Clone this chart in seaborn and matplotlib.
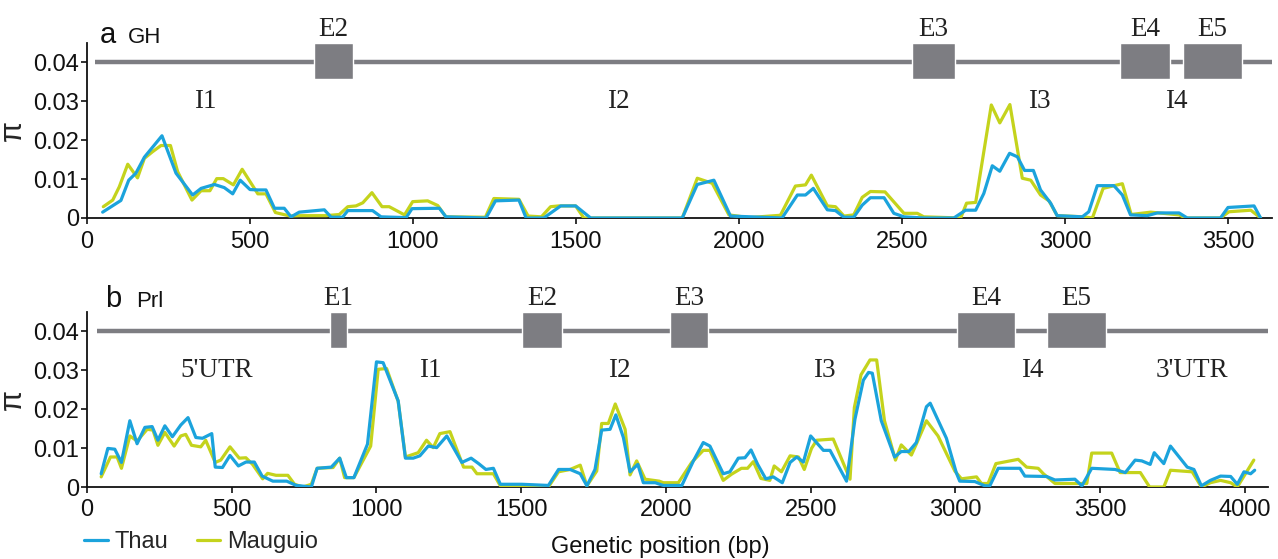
import numpy as np
import pandas as pd
import matplotlib
matplotlib.use("Agg")
import matplotlib.pyplot as plt
import seaborn as sns

# ---------------- data ----------------
series_names = ["Thau", "Mauguio"]
series_colors = ["#1BA3DC", "#C4D31C"]

# GH panel
gh_thau_x = [48, 104, 128, 150, 176, 230, 273, 324, 350, 391, 421, 447, 470, 500, 524, 549, 575, 605,
             626, 651, 728, 749, 784, 800, 876, 902, 979, 997, 1081, 1101, 1224, 1253, 1325, 1347,
             1401, 1453, 1499, 1545, 1826, 1872, 1923, 1974, 2132, 2179, 2204, 2228, 2271, 2296,
             2322, 2352, 2378, 2403, 2445, 2475, 2506, 2567, 2659, 2695, 2726, 2751, 2777, 2800,
             2830, 2854, 2876, 2903, 2925, 2956, 2976, 3053, 3073, 3099, 3150, 3176, 3201, 3252,
             3283, 3350, 3375, 3477, 3500, 3580, 3600]
gh_thau_y = [0.0015, 0.0045, 0.0097, 0.0115, 0.0156, 0.0211, 0.0115, 0.0059, 0.0076, 0.0086, 0.0078,
             0.0062, 0.0097, 0.0073, 0.0072, 0.0072, 0.0025, 0.0025, 0.0003, 0.0015, 0.0021, 0.0002,
             0.0002, 0.0019, 0.0019, 0.0003, 0.0001, 0.0024, 0.0025, 0.0003, 0.0, 0.0044, 0.0046,
             0.0, 0.0, 0.0031, 0.0031, 0.0, 0.0, 0.0086, 0.0097, 0.0005, 0.0, 0.0059, 0.0059, 0.0076,
             0.0021, 0.0019, 0.0002, 0.0002, 0.0033, 0.0052, 0.0052, 0.0012, 0.0003, 0.0, 0.0, 0.002,
             0.002, 0.0063, 0.0134, 0.012, 0.0166, 0.0157, 0.0122, 0.0122, 0.0072, 0.0038, 0.0006,
             0.0003, 0.0016, 0.0083, 0.0083, 0.0059, 0.0008, 0.0006, 0.0013, 0.0013, 0.0, 0.0,
             0.0027, 0.0031, 0.0]

gh_maug_x = [50, 79, 99, 125, 155, 176, 201, 227, 256, 278, 322, 350, 377, 398, 418, 449, 476, 524,
             549, 578, 623, 651, 733, 774, 800, 825, 846, 874, 905, 927, 974, 999, 1045, 1076, 1101,
             1222, 1248, 1325, 1353, 1394, 1422, 1447, 1499, 1524, 1826, 1872, 1918, 1969, 2030,
             2127, 2173, 2204, 2222, 2271, 2296, 2322, 2352, 2378, 2403, 2448, 2506, 2547, 2567,
             2680, 2698, 2726, 2774, 2800, 2831, 2869, 2895, 2925, 2951, 2976, 3058, 3084, 3117,
             3176, 3203, 3263, 3350, 3370, 3477, 3503, 3570, 3600]
gh_maug_y = [0.0029, 0.0046, 0.008, 0.0138, 0.0103, 0.0153, 0.017, 0.0186, 0.0186, 0.0119, 0.0046,
             0.007, 0.007, 0.0101, 0.0101, 0.0085, 0.0125, 0.0062, 0.0062, 0.0014, 0.0005, 0.0006,
             0.0006, 0.0009, 0.0029, 0.0031, 0.0039, 0.0065, 0.0029, 0.0029, 0.0008, 0.0042, 0.0044,
             0.0032, 0.0003, 0.0002, 0.005, 0.0048, 0.0005, 0.0003, 0.0029, 0.0031, 0.0031, 0.0,
             0.0, 0.0102, 0.0089, 0.0008, 0.0001, 0.0007, 0.0082, 0.0085, 0.011, 0.0031, 0.0029,
             0.0005, 0.0008, 0.0053, 0.0068, 0.0067, 0.0012, 0.0012, 0.0003, 0.0, 0.0038, 0.004,
             0.029, 0.0244, 0.0291, 0.0102, 0.0097, 0.0059, 0.0044, 0.0006, 0.0003, 0.0, 0.0076,
             0.0088, 0.0009, 0.0015, 0.0008, 0.0, 0.0, 0.0016, 0.002, 0.0]

# Prl panel
prl_thau_x = [49, 72, 96, 119, 148, 173, 200, 225, 245, 269, 295, 324, 349, 376, 399, 431, 443, 468,
              494, 523, 549, 578, 605, 642, 690, 723, 775, 795, 844, 873, 896, 922, 969, 1000, 1023,
              1075, 1100, 1127, 1150, 1179, 1208, 1243, 1295, 1327, 1353, 1378, 1404, 1428, 1502,
              1594, 1629, 1669, 1704, 1727, 1755, 1778, 1807, 1827, 1853, 1876, 1903, 1922, 1963,
              1991, 2055, 2095, 2129, 2152, 2198, 2221, 2250, 2273, 2294, 2317, 2345, 2371, 2402,
              2429, 2452, 2475, 2500, 2544, 2567, 2624, 2653, 2682, 2700, 2713, 2744, 2790, 2813,
              2839, 2865, 2900, 2913, 2969, 3003, 3015, 3067, 3102, 3119, 3148, 3223, 3240, 3315,
              3344, 3413, 3437, 3471, 3552, 3587, 3621, 3644, 3673, 3687, 3720, 3743, 3801, 3824,
              3850, 3881, 3916, 3951, 3974, 3997, 4020, 4034]
prl_thau_y = [0.0034, 0.0099, 0.0097, 0.0063, 0.017, 0.0111, 0.0153, 0.0155, 0.012, 0.0157, 0.0129,
              0.0159, 0.0178, 0.0127, 0.0125, 0.0137, 0.0051, 0.005, 0.0081, 0.0054, 0.0064, 0.0064,
              0.0028, 0.0015, 0.0015, 0.0004, 0.0, 0.0048, 0.0051, 0.0074, 0.0024, 0.0024, 0.011,
              0.0321, 0.0319, 0.0221, 0.0074, 0.0074, 0.008, 0.0105, 0.0101, 0.0131, 0.0063, 0.0074,
              0.006, 0.0045, 0.0048, 0.0007, 0.0007, 0.0004, 0.0045, 0.0045, 0.0034, 0.0003, 0.0045,
              0.0146, 0.0148, 0.0185, 0.0127, 0.0039, 0.0058, 0.0011, 0.0011, 0.0004, 0.0004, 0.0067,
              0.0114, 0.0105, 0.0034, 0.0039, 0.0074, 0.0075, 0.0095, 0.0058, 0.0021, 0.0026, 0.0011,
              0.0063, 0.0077, 0.0064, 0.0131, 0.0094, 0.0094, 0.0015, 0.0174, 0.0274, 0.0294, 0.0292,
              0.017, 0.0077, 0.0091, 0.0091, 0.0114, 0.0206, 0.0215, 0.0125, 0.0037, 0.0015, 0.0014,
              0.0003, 0.0003, 0.0048, 0.0048, 0.0028, 0.0027, 0.0018, 0.002, 0.0003, 0.0048, 0.0045,
              0.0037, 0.0069, 0.0067, 0.0058, 0.0088, 0.006, 0.0105, 0.0051, 0.0045, 0.0003, 0.0017,
              0.0028, 0.0027, 0.0007, 0.0039, 0.0034, 0.0043]

prl_maug_x = [49, 81, 104, 119, 148, 173, 208, 228, 245, 269, 301, 324, 341, 361, 393, 410, 443, 462,
              494, 526, 549, 572, 607, 624, 653, 694, 717, 746, 775, 795, 850, 873, 890, 922, 980,
              1006, 1035, 1075, 1100, 1144, 1173, 1196, 1219, 1254, 1301, 1330, 1347, 1404, 1428,
              1502, 1594, 1629, 1669, 1704, 1727, 1761, 1778, 1801, 1825, 1859, 1876, 1899, 1928,
              1977, 1991, 2043, 2089, 2129, 2152, 2198, 2227, 2261, 2282, 2302, 2328, 2359, 2374,
              2399, 2429, 2458, 2478, 2503, 2521, 2578, 2636, 2651, 2674, 2705, 2728, 2755, 2793,
              2813, 2848, 2865, 2900, 2940, 2998, 3021, 3073, 3090, 3113, 3140, 3217, 3246, 3286,
              3304, 3344, 3454, 3471, 3540, 3569, 3639, 3671, 3720, 3743, 3818, 3850, 3881, 3916,
              3951, 3974, 4031]
prl_maug_y = [0.0026, 0.0077, 0.0077, 0.0048, 0.0131, 0.0118, 0.0148, 0.0146, 0.0107, 0.014, 0.0105,
              0.0131, 0.0135, 0.0107, 0.0103, 0.012, 0.0063, 0.0069, 0.0103, 0.0074, 0.0075, 0.0058,
              0.0021, 0.0035, 0.003, 0.003, 0.0007, 0.0, 0.0007, 0.0048, 0.005, 0.0074, 0.0024,
              0.0024, 0.0105, 0.0302, 0.0304, 0.022, 0.0077, 0.0088, 0.012, 0.0101, 0.0137, 0.0142,
              0.0051, 0.0051, 0.0034, 0.0034, 0.0003, 0.0003, 0.0, 0.0039, 0.0045, 0.0056, 0.0003,
              0.0041, 0.0163, 0.0163, 0.0213, 0.0148, 0.0031, 0.0067, 0.002, 0.0015, 0.0011, 0.0011,
              0.0063, 0.0094, 0.0094, 0.0017, 0.0033, 0.0048, 0.0048, 0.0065, 0.0022, 0.0017, 0.0054,
              0.0039, 0.008, 0.0077, 0.0045, 0.0099, 0.012, 0.0123, 0.002, 0.0204, 0.0288, 0.0326,
              0.0326, 0.017, 0.0069, 0.0108, 0.0082, 0.011, 0.017, 0.0131, 0.0041, 0.0021, 0.0026,
              0.0009, 0.0009, 0.006, 0.0071, 0.0051, 0.0048, 0.0034, 0.0009, 0.0009, 0.0087, 0.0087,
              0.0037, 0.0037, 0.0, 0.0, 0.0043, 0.0039, 0.0, 0.0011, 0.0017, 0.0011, 0.0, 0.0069]

# gene structures
gh_exon_names = ["E2", "E3", "E4", "E5"]
gh_exon_start = [696, 2531, 3169, 3362]
gh_exon_end = [816, 2663, 3322, 3543]
gh_region_names = ["I1", "I2", "I3", "I4"]
gh_region_pos = [362, 1629, 2920, 3340]
gh_gene_span = [25, 3640]

prl_exon_names = ["E1", "E2", "E3", "E4", "E5"]
prl_exon_start = [839, 1503, 2014, 3005, 3316]
prl_exon_end = [898, 1641, 2145, 3206, 3520]
prl_region_names = ["5'UTR", "I1", "I2", "I3", "I4", "3'UTR"]
prl_region_pos = [449, 1185, 1838, 2546, 3264, 3817]
prl_gene_span = [34, 4090]

y_ticks = [0, 0.01, 0.02, 0.03, 0.04]
y_ticklabels = ["0", "0.01", "0.02", "0.03", "0.04"]
gh_xticks = [0, 500, 1000, 1500, 2000, 2500, 3000, 3500]
prl_xticks = [0, 500, 1000, 1500, 2000, 2500, 3000, 3500, 4000]

# ---------------- plotting ----------------
sns.set_theme(style="ticks")
plt.rcParams["font.family"] = ["Liberation Sans", "DejaVu Sans"]

W, H = 1278, 559
fig = plt.figure(figsize=(W / 100, H / 100), dpi=100)
ax_a = fig.add_axes([87 / W, 1 - 218 / H, (1272 - 87) / W, 175 / H])
ax_b = fig.add_axes([87 / W, 1 - 487 / H, (1268 - 87) / W, 175 / H])

gene_color = "#7d7d82"
serif = ["Liberation Serif", "DejaVu Serif"]
series_z = [4, 3]


def draw_panel(ax, series, xlim, xticks, exon_names, exon_start, exon_end,
               region_names, region_pos, span):
    for (xs, ys), name, col, z in zip(series, series_names, series_colors, series_z):
        df = pd.DataFrame({"pos": xs, "pi": ys})
        sns.lineplot(data=df, x="pos", y="pi", ax=ax, color=col, lw=2.3,
                     estimator=None, sort=False, label=name, zorder=z)
    # gene structure
    ax.hlines(0.04, span[0], span[1], color=gene_color, lw=3.2, zorder=1)
    ax.broken_barh([(s, e - s) for s, e in zip(exon_start, exon_end)],
                   (0.0356, 0.0094), facecolors=gene_color, zorder=2)
    for name, s, e in zip(exon_names, exon_start, exon_end):
        ax.text((s + e) / 2, 0.0468, name, ha="center", va="baseline",
                family=serif, fontsize=19.5, color="#222222", clip_on=False)
    for name, p in zip(region_names, region_pos):
        ax.text(p, 0.0282, name, ha="center", va="baseline",
                family=serif, fontsize=19.5, color="#222222")
    ax.set_xlim(*xlim)
    ax.set_ylim(0, 0.0449)
    ax.set_xticks(xticks)
    ax.set_xticklabels([str(t) for t in xticks])
    ax.set_yticks(y_ticks)
    ax.set_yticklabels(y_ticklabels)
    ax.tick_params(axis="both", labelsize=17, length=4, width=1.2, colors="#111111")
    ax.tick_params(axis="x", pad=5)
    ax.tick_params(axis="y", pad=1.5)
    for s in ["top", "right"]:
        ax.spines[s].set_visible(False)
    for s in ["left", "bottom"]:
        ax.spines[s].set_linewidth(1.3)
        ax.spines[s].set_color("#111111")
    ax.set_xlabel("")
    ax.set_ylabel("π", fontsize=22, rotation=90)
    ax.yaxis.set_label_coords(-0.05, 0.5)
    leg = ax.get_legend()
    if leg is not None:
        leg.remove()


draw_panel(ax_a, [(gh_thau_x, gh_thau_y), (gh_maug_x, gh_maug_y)], (0, 3635), gh_xticks,
           gh_exon_names, gh_exon_start, gh_exon_end, gh_region_names, gh_region_pos, gh_gene_span)
draw_panel(ax_b, [(prl_thau_x, prl_thau_y), (prl_maug_x, prl_maug_y)], (0, 4080), prl_xticks,
           prl_exon_names, prl_exon_start, prl_exon_end, prl_region_names, prl_region_pos, prl_gene_span)

# panel labels
fig.text(100 / W, 1 - 43 / H, "a", fontsize=21, ha="left", va="baseline", color="#111111")
fig.text(128 / W, 1 - 43 / H, "GH", fontsize=16, ha="left", va="baseline", color="#111111")
fig.text(105 / W, 1 - 307 / H, "b", fontsize=21, ha="left", va="baseline", color="#111111")
fig.text(136 / W, 1 - 307 / H, "Prl", fontsize=16, ha="left", va="baseline", color="#111111")

fig.text(660 / W, 1 - 547 / H, "Genetic position (bp)", fontsize=17, ha="center", va="center",
         color="#111111")

handles = ax_a.get_lines()[:2]
fig.legend(handles, series_names, loc="center left", bbox_to_anchor=(84 / W, 1 - 542 / H),
           ncol=2, frameon=False, fontsize=17, handlelength=1.0, handletextpad=0.3,
           columnspacing=1.2, borderpad=0, borderaxespad=0)

fig.savefig("out.png", dpi=100)
